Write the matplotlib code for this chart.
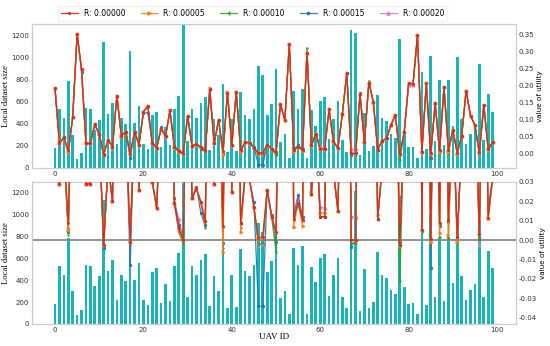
import matplotlib
matplotlib.use("Agg")
import matplotlib.pyplot as plt
import numpy as np

uav_ids = list(range(100))

dataset_size = [183, 530, 448, 785, 302, 85, 131, 542, 530, 344,
                436, 1137, 488, 585, 219, 448, 393, 1061, 402, 561,
                216, 174, 478, 510, 190, 366, 210, 532, 646, 1300,
                247, 530, 449, 588, 637, 165, 440, 302, 760, 145,
                445, 155, 686, 483, 440, 536, 923, 841, 476, 574,
                892, 234, 304, 88, 698, 535, 712, 94, 522, 382,
                605, 637, 259, 446, 605, 250, 146, 1248, 1218, 116,
                500, 150, 202, 661, 450, 422, 311, 274, 1167, 335,
                186, 192, 88, 868, 174, 1010, 244, 793, 210, 796,
                375, 998, 439, 216, 311, 369, 938, 250, 664, 509]

utility_r0 = [0.191, 0.029, 0.047, 0.009, 0.106, 0.351, 0.247, 0.029, 0.029, 0.085,
              0.056, -0.0025, 0.039, 0.020, 0.169, 0.051, 0.064, -0.001, 0.063, 0.026,
              0.122, 0.139, 0.030, 0.0165, 0.072, 0.050, 0.126, 0.019, 0.006, 0.000,
              0.110, 0.0215, 0.0266, 0.0195, 0.0098, 0.188, 0.029, 0.098, 0.0073, 0.178,
              0.025, 0.181, 0.009, 0.033, 0.031, 0.017, 0.001, 0.0017, 0.026, 0.012,
              0.0043, 0.144, 0.098, 0.322, 0.011, 0.019, 0.0103, 0.296, 0.0235, 0.058,
              0.012, 0.012, 0.129, 0.035, 0.015, 0.115, 0.235, 0.000, 0.000, 0.173,
              0.033, 0.208, 0.152, 0.011, 0.037, 0.044, 0.083, 0.113, -0.0026, 0.062,
              0.206, 0.204, 0.348, 0.005, 0.206, 0.0003, 0.147, 0.0086, 0.196, 0.0103,
              0.069, 0.0014, 0.051, 0.184, 0.110, 0.083, 0.003, 0.142, 0.0115, 0.032]

# values of the other R settings where they visibly differ from R = 0
diff_r5 = {3: 0.005, 28: 0.005, 35: 0.193, 38: -0.0063, 39: 0.181, 42: 0.004,
           54: 0.0069, 56: 0.0074, 58: 0.025, 60: 0.014, 61: 0.014, 73: 0.0129,
           85: -0.001, 87: 0.0034, 89: 0.0026, 91: -0.001}
diff_r10 = {3: 0.0026, 28: 0.004, 29: -0.002, 34: 0.0063, 38: -0.004, 42: 0.006,
            46: -0.0026, 47: -0.0017, 50: -0.006, 57: 0.31, 67: -0.0017, 68: -0.0017,
            71: 0.213, 78: -0.021, 83: 0.0043, 87: 0.0017, 89: 0.0012, 91: -0.0017, 96: 0.0}
diff_r15 = {3: 0.004, 6: 0.24, 11: -0.004, 17: -0.013, 20: 0.118, 21: 0.12, 24: 0.077,
            27: 0.0214, 28: 0.0077, 32: 0.0275, 33: 0.0137, 34: 0.0075, 38: -0.0017,
            45: 0.0197, 46: -0.034, 47: -0.034, 49: 0.013, 50: -0.0009, 54: 0.0129,
            55: 0.0232, 56: 0.012, 67: -0.0034, 69: 0.178, 78: -0.001, 85: -0.0146,
            87: 0.007, 89: 0.0094, 96: 0.001, 98: 0.0172}
diff_r20 = {3: 0.006, 28: 0.011, 46: -0.0026, 47: -0.002, 55: 0.021, 60: 0.0172,
            61: 0.0163, 67: 0.012, 68: 0.012, 80: 0.2, 81: 0.2, 96: -0.0026}

labels = ["R: 0.00000", "R: 0.00005", "R: 0.00010", "R: 0.00015", "R: 0.00020"]
colors = ["#e0201c", "#ff7f0e", "#2ca02c", "#1f77b4", "#e377c2"]
markers = [".", ">", "+", "*", "^"]


def series(diff):
    vals = list(utility_r0)
    for k, v in diff.items():
        vals[k] = v
    return vals


all_series = [utility_r0, series(diff_r5), series(diff_r10), series(diff_r15), series(diff_r20)]

fig = plt.figure(figsize=(5.5, 3.46), dpi=100)
ax_top = fig.add_axes([0.0576, 0.5145, 0.8805, 0.416])
ax_bot = fig.add_axes([0.0576, 0.0636, 0.8805, 0.411])

spine_c = "#cccccc"
tick_c = "#333333"
serif = "Liberation Serif"

handles = []
for ax, ylim_r in [(ax_top, (-0.043, 0.38)), (ax_bot, (-0.0432, 0.03))]:
    ax.bar(uav_ids, dataset_size, width=0.6, color="#17b5b5", zorder=1)
    ax.set_ylim(0, 1300)
    ax.set_yticks(range(0, 1201, 200))
    ax.set_xticks(range(0, 101, 20))
    ax.set_ylabel("Local dataset size", fontfamily=serif, fontsize=6.2, labelpad=0.5)
    axr = ax.twinx()
    if ax is ax_bot:
        axr.axhline(0, color="#888888", lw=1.3, zorder=1)
    hs = []
    for i in range(5):
        h, = axr.plot(uav_ids, all_series[i], color=colors[i], marker=markers[i],
                      markersize=2, lw=0.9, alpha=0.9, zorder=10 - i, label=labels[i])
        hs.append(h)
    handles = hs
    axr.set_ylim(*ylim_r)
    if ax is ax_top:
        axr.set_yticks(np.arange(0, 0.351, 0.05))
    else:
        axr.set_yticks(np.arange(-0.04, 0.031, 0.01))
    axr.yaxis.set_major_formatter(matplotlib.ticker.FormatStrFormatter("%.2f"))
    axr.set_ylabel("value of utility", fontsize=5.2, labelpad=2)
    for a in (ax, axr):
        for s in a.spines.values():
            s.set_color(spine_c)
        a.tick_params(colors=tick_c, labelsize=5, length=0, pad=2)

ax_bot.set_xlabel("UAV ID", fontfamily=serif, fontsize=6.5, labelpad=0)

fig.legend(handles=handles, labels=labels, loc="upper center", ncol=5,
           bbox_to_anchor=(0.459, 0.995), fontsize=5.5, frameon=True,
           edgecolor="#eeeeee", handlelength=2.2, columnspacing=2.0,
           borderpad=0.4, handletextpad=0.8, markerscale=1.2)

fig.savefig("out.png", dpi=100)
